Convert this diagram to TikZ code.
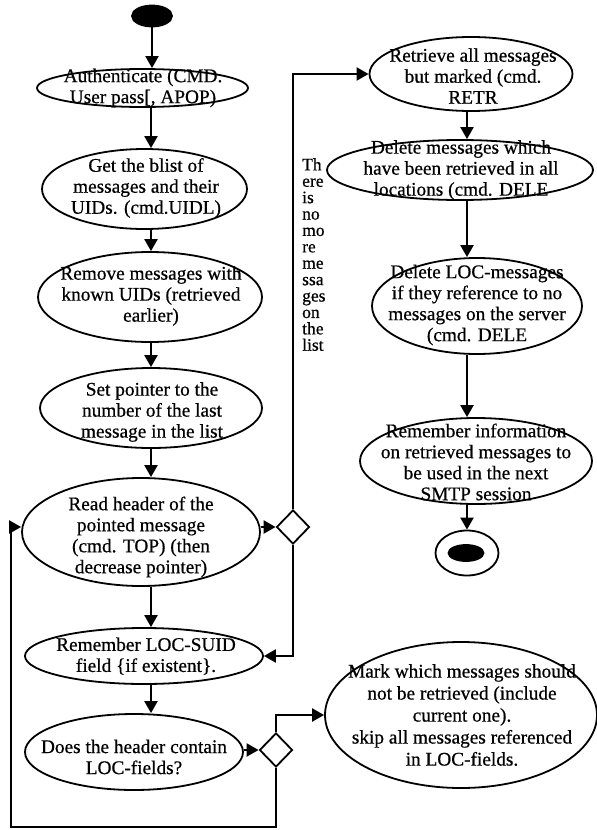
\documentclass[tikz,border=0pt]{standalone}
\usepackage{fontspec}
\setmainfont{Liberation Serif}[FakeBold=0.6]
\usetikzlibrary{shapes.geometric,arrows.meta}
\begin{document}
\begin{tikzpicture}[x=1pt,y=-1pt,
  ell/.style={draw,ellipse,line width=1.8pt,inner sep=0pt},
  txt/.style={align=center,font=\fontsize{19.3}{21}\selectfont,inner sep=0pt},
  dia/.style={draw,diamond,line width=1.8pt,inner sep=0pt,minimum width=33pt,minimum height=34pt},
  arr/.style={line width=2.3pt,-{Triangle[length=12pt,width=13pt]}},
  ln/.style={line width=2.3pt}]
\useasboundingbox (0,0) rectangle (597,830);
% left column
\node[ell,fill=black,minimum width=40pt,minimum height=21pt] (start) at (152,16) {};
\node[ell,minimum width=211pt,minimum height=38pt] (auth) at (142.5,88) {};
\node[txt] (authT) at (143,88) {Authenticate (CMD.\\User pass[, APOP)};
\node[ell,minimum width=205pt,minimum height=80pt] (blist) at (144.5,189) {};
\node[txt] (blistT) at (146,188) {Get the blist of\\messages and their\\UIDs. (cmd.UIDL)};
\node[ell,minimum width=224pt,minimum height=90pt] (remove) at (150,297) {};
\node[txt] (removeT) at (151,296) {Remove messages with\\known UIDs (retrieved\\earlier)};
\node[ell,minimum width=222pt,minimum height=80pt] (set) at (151,408) {};
\node[txt] (setT) at (152,412) {Set pointer to the\\number of the last\\message in the list};
\node[ell,minimum width=238pt,minimum height=108pt] (read) at (141,532) {};
\node[txt] (readT) at (141,537) {Read header of the\\pointed message\\(cmd. TOP) (then\\decrease pointer)};
\node[ell,minimum width=238pt,minimum height=56pt] (rem) at (144,656) {};
\node[txt] (remT) at (146,656) {Remember LOC-SUID\\field \{if existent\}.};
\node[ell,minimum width=218pt,minimum height=76pt] (does) at (134,752) {};
\node[txt] (doesT) at (134,757) {Does the header contain\\LOC-fields?};
\node[dia] (d1) at (293,527) {};
\node[dia] (d2) at (276,750) {};
% right column
\node[ell,minimum width=203pt,minimum height=74pt] (retr) at (471,74) {};
\node[txt] (retrT) at (473,76) {Retrieve all messages\\but marked (cmd.\\RETR};
\node[ell,minimum width=266pt,minimum height=60pt] (dele) at (460,170) {};
\node[txt] (deleT) at (461,170) {Delete messages which\\have been retrieved in all\\locations (cmd. DELE};
\node[ell,minimum width=210pt,minimum height=96pt] (delloc) at (477,306) {};
\node[txt] (dellocT) at (477,305) {Delete LOC-messages\\if they reference to no\\messages on the server\\(cmd. DELE};
\node[ell,minimum width=232pt,minimum height=86pt] (remi) at (476,461) {};
\node[txt] (remiT) at (476,462) {Remember information\\on retrieved messages to\\be used in the next\\SMTP session};
\node[ell,minimum width=63pt,minimum height=45pt] (end) at (467,553) {};
\node[ell,fill=black,minimum width=35pt,minimum height=16pt] (endin) at (466,553) {};
\node[ell,minimum width=272pt,minimum height=146pt] (mark) at (461,715) {};
\node[txt,font=\fontsize{19.3}{22}\selectfont] (markT) at (462,715) {Mark which messages should\\not be retrieved (include\\current one).\\skip all messages referenced\\in LOC-fields.};
% vertical label
\node[font=\fontsize{17.5}{16.4}\selectfont,align=left,anchor=north west,inner sep=0pt] (vt) at (302,158) {Th\\ere\\is\\no\\mo\\re\\me\\ssa\\ges\\on\\the\\list};
% connectors
\coordinate (cl) at (151,0);
\coordinate (cr) at (467,0);
\coordinate (lb) at (11,827);
\draw[arr] (start.south) -- (auth.north -| start.south);
\draw[arr] (auth.south -| cl) -- (blist.north -| cl);
\draw[arr] (blist.south -| cl) -- (remove.north -| cl);
\draw[arr] (remove.south -| cl) -- (set.north -| cl);
\draw[arr] (set.south -| cl) -- (read.north -| cl);
\draw[arr] (read.south -| cl) -- (rem.north -| cl);
\draw[arr] (rem.south -| cl) -- (does.north -| cl);
\draw[arr] (d1.west -| read.east) -- (d1.west);
\draw[arr] (d1.north) -- (d1.north |- retr.west) -- (retr.west);
\draw[arr] (d1.south) -- (d1.south |- rem.east) -- (rem.east);
\draw[arr] (does.east |- d2.west) -- (d2.west);
\draw[arr] (d2.north) -- (d2.north |- mark.west) -- (mark.west);
\draw[arr] (d2.south) -- (d2.south |- lb) -- (lb) -- (lb |- d1.west) -- (d1.west -| read.west);
\draw[arr] (retr.south -| cr) -- (dele.north -| cr);
\draw[arr] (dele.south -| cr) -- (delloc.north -| cr);
\draw[arr] (delloc.south -| cr) -- (remi.north -| cr);
\draw[arr] (remi.south -| cr) -- (end.north -| cr);
\end{tikzpicture}
\end{document}
